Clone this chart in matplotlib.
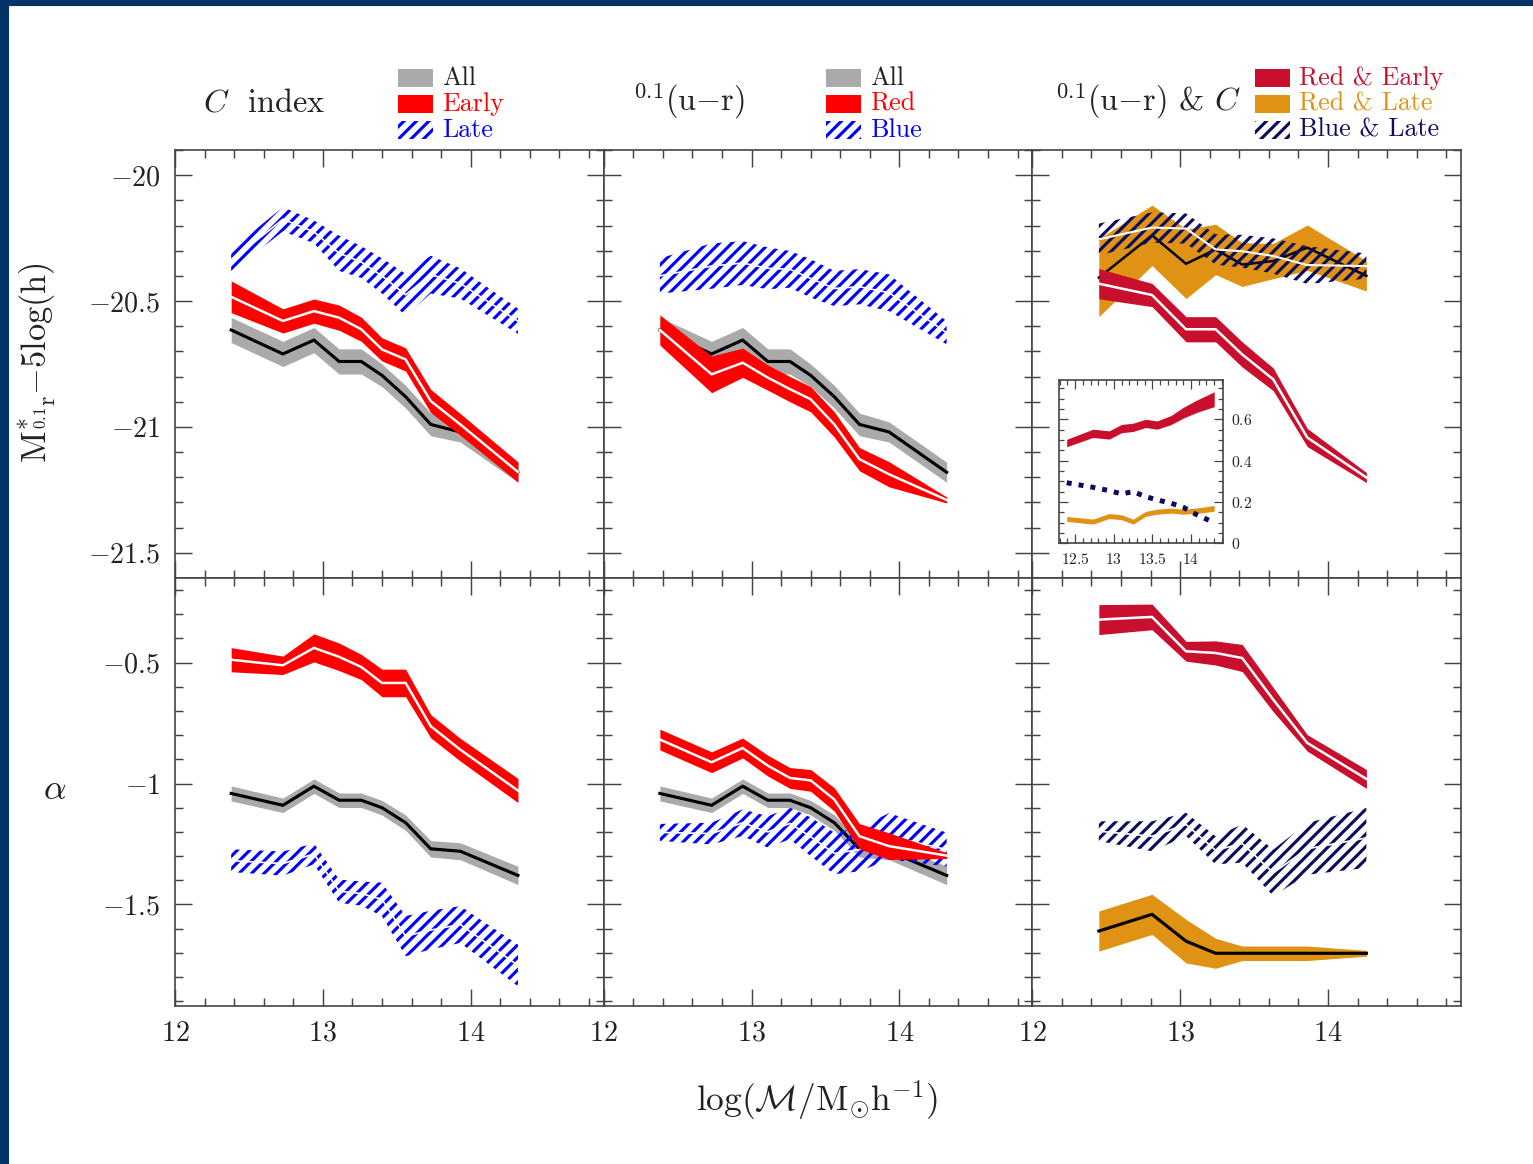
import numpy as np
import matplotlib
matplotlib.use("Agg")
import matplotlib.pyplot as plt
from matplotlib.patches import Rectangle
from matplotlib.ticker import MultipleLocator, FuncFormatter

plt.rcParams['mathtext.fontset'] = 'cm'
plt.rcParams['font.family'] = ['cmr10', 'DejaVu Serif']
plt.rcParams['axes.formatter.use_mathtext'] = True
plt.rcParams['hatch.linewidth'] = 1.5

# halo mass bins (log M / Msun h^-1)
mass_cu = [12.38, 12.73, 12.94, 13.11, 13.26, 13.40, 13.56, 13.73, 13.93, 14.32]
mass_uc = [12.45, 12.81, 13.04, 13.24, 13.42, 13.63, 13.86, 14.26]
mass_frac = [12.39, 12.73, 12.94, 13.10, 13.25, 13.41, 13.56, 13.74, 13.90, 14.08, 14.30]

# characteristic magnitude M*
mstar_all = [-20.615, -20.71, -20.655, -20.74, -20.74, -20.795, -20.88, -20.99, -21.02, -21.18]
mstar_all_err = [0.05, 0.05, 0.05, 0.05, 0.05, 0.045, 0.045, 0.045, 0.04, 0.04]
mstar_early = [-20.483, -20.579, -20.54, -20.566, -20.612, -20.692, -20.732, -20.897, -20.99, -21.179]
mstar_early_err = [0.063, 0.048, 0.048, 0.05, 0.048, 0.046, 0.046, 0.046, 0.043, 0.04]
mstar_late = [-20.34, -20.175, -20.225, -20.31, -20.345, -20.40, -20.475, -20.395, -20.43, -20.58]
mstar_late_err = [0.045, 0.048, 0.045, 0.07, 0.063, 0.07, 0.083, 0.075, 0.06, 0.05]
mstar_red = [-20.615, -20.791, -20.745, -20.804, -20.85, -20.89, -20.99, -21.128, -21.188, -21.29]
mstar_red_err = [0.06, 0.073, 0.058, 0.05, 0.05, 0.05, 0.05, 0.046, 0.05, 0.012]
mstar_blue = [-20.40, -20.361, -20.349, -20.37, -20.374, -20.41, -20.45, -20.443, -20.467, -20.626]
mstar_blue_err = [0.07, 0.09, 0.087, 0.083, 0.073, 0.076, 0.07, 0.07, 0.073, 0.046]
mstar_rede = [-20.431, -20.476, -20.612, -20.612, -20.712, -20.811, -21.042, -21.201]
mstar_rede_err = [0.06, 0.046, 0.05, 0.05, 0.05, 0.045, 0.036, 0.02]
mstar_redl = [-20.407, -20.239, -20.352, -20.295, -20.355, -20.341, -20.288, -20.40]
mstar_redl_err = [0.155, 0.12, 0.138, 0.10, 0.087, 0.07, 0.09, 0.06]
mstar_bluel = [-20.255, -20.208, -20.212, -20.295, -20.302, -20.321, -20.357, -20.361]
mstar_bluel_err = [0.063, 0.06, 0.06, 0.06, 0.065, 0.07, 0.075, 0.05]

# faint-end slope alpha
alpha_all = [-1.041, -1.09, -1.011, -1.069, -1.069, -1.10, -1.162, -1.27, -1.28, -1.38]
alpha_all_err = [0.031, 0.03, 0.03, 0.03, 0.03, 0.03, 0.032, 0.034, 0.035, 0.038]
alpha_early = [-0.488, -0.511, -0.439, -0.476, -0.518, -0.584, -0.584, -0.763, -0.86, -1.029]
alpha_early_err = [0.05, 0.038, 0.058, 0.057, 0.052, 0.057, 0.057, 0.048, 0.047, 0.05]
alpha_late = [-1.319, -1.331, -1.291, -1.445, -1.455, -1.479, -1.631, -1.606, -1.583, -1.752]
alpha_late_err = [0.047, 0.05, 0.043, 0.048, 0.05, 0.069, 0.083, 0.08, 0.076, 0.086]
alpha_red = [-0.818, -0.912, -0.853, -0.926, -0.977, -0.987, -1.066, -1.218, -1.259, -1.298]
alpha_red_err = [0.043, 0.043, 0.041, 0.043, 0.043, 0.045, 0.048, 0.052, 0.055, 0.012]
alpha_blue = [-1.202, -1.207, -1.162, -1.20, -1.165, -1.22, -1.289, -1.273, -1.218, -1.273]
alpha_blue_err = [0.035, 0.045, 0.055, 0.065, 0.065, 0.08, 0.086, 0.09, 0.096, 0.07]
alpha_rede = [-0.322, -0.311, -0.453, -0.46, -0.481, -0.653, -0.832, -0.981]
alpha_rede_err = [0.062, 0.053, 0.041, 0.05, 0.056, 0.05, 0.034, 0.039]
alpha_redl = [-1.61, -1.541, -1.652, -1.702, -1.702, -1.702, -1.702, -1.702]
alpha_redl_err = [0.083, 0.083, 0.09, 0.062, 0.03, 0.03, 0.03, 0.012]
alpha_bluel = [-1.197, -1.218, -1.169, -1.276, -1.248, -1.369, -1.27, -1.225]
alpha_bluel_err = [0.041, 0.062, 0.048, 0.058, 0.079, 0.096, 0.107, 0.124]

# fractions of galaxies (inset)
frac_rede = [0.485, 0.532, 0.524, 0.555, 0.561, 0.58, 0.572, 0.596, 0.632, 0.664, 0.697]
frac_rede_err = [0.018, 0.02, 0.02, 0.02, 0.02, 0.02, 0.02, 0.022, 0.026, 0.03, 0.036]
frac_redl = [0.118, 0.105, 0.132, 0.126, 0.105, 0.142, 0.153, 0.158, 0.153, 0.158, 0.169]
frac_redl_err = [0.012, 0.012, 0.012, 0.012, 0.012, 0.012, 0.012, 0.012, 0.012, 0.013, 0.014]
frac_bluel = [0.293, 0.271, 0.255, 0.239, 0.25, 0.226, 0.21, 0.194, 0.174, 0.137, 0.10]

GRAY = '#aaaaaa'
RED = '#ff0000'
BLUE = '#0000ff'
CRIMSON = '#c8102e'
ORANGE = '#e09214'
NAVY = '#0c0c5e'
FRAME = '#444444'

W, H, DPI = 1533, 1164, 150
fig = plt.figure(figsize=(W / DPI, H / DPI), dpi=DPI, facecolor='white')


def fx(px):
    return px / W


def fy(py):
    return 1 - py / H


# slide border
fig.patches.append(Rectangle((0, 0), fx(8), 1, transform=fig.transFigure,
                             color='#003466', zorder=0))
fig.patches.append(Rectangle((0, fy(5)), 1, 5 / H, transform=fig.transFigure,
                             color='#003466', zorder=0))


def band(ax, x, y, e, color, line, lw=1.4, hatch=None, z=2):
    y = np.asarray(y)
    e = np.asarray(e)
    if hatch:
        ax.fill_between(x, y - e, y + e, facecolor='none', edgecolor=color,
                        hatch=hatch, linewidth=0, zorder=z)
    else:
        ax.fill_between(x, y - e, y + e, color=color, linewidth=0, zorder=z)
    ax.plot(x, y, color=line, lw=lw, zorder=z + 0.1, solid_joinstyle='miter')


def tick_fmt(v, pos):
    return r'$%g$' % v


col_left = [175, 603.7, 1032.3]
row_top = [150, 578]
pw, ph = 428.7, 428
axes = [[None] * 3 for _ in range(2)]
for r in range(2):
    for c in range(3):
        ax = fig.add_axes([fx(col_left[c]), fy(row_top[r] + ph), pw / W, ph / H])
        ax.set_xlim(12, 14.9)
        if r == 0:
            ax.set_ylim(-21.6, -19.9)
        else:
            ax.set_ylim(-1.92, -0.15)
        ax.yaxis.set_major_locator(MultipleLocator(0.5))
        ax.xaxis.set_major_locator(MultipleLocator(1))
        ax.xaxis.set_minor_locator(MultipleLocator(0.2))
        ax.yaxis.set_minor_locator(MultipleLocator(0.1))
        ax.xaxis.set_major_formatter(FuncFormatter(tick_fmt))
        ax.yaxis.set_major_formatter(FuncFormatter(tick_fmt))
        ax.tick_params(which='both', direction='in', top=True, right=True,
                       color=FRAME, width=0.7, labelsize=13.5, labelcolor='#222222')
        ax.tick_params(which='major', length=8.2, pad=7)
        ax.tick_params(which='minor', length=3.9)
        ax.tick_params(labelleft=(c == 0), labelbottom=(r == 1))
        for s in ax.spines.values():
            s.set_color(FRAME)
            s.set_linewidth(0.8)
        axes[r][c] = ax

HATCH = '////'

# C index
ax = axes[0][0]
band(ax, mass_cu, mstar_all, mstar_all_err, GRAY, 'black', 1.5, z=2)
band(ax, mass_cu, mstar_late, mstar_late_err, BLUE, 'white', 0.8, hatch=HATCH, z=3)
band(ax, mass_cu, mstar_early, mstar_early_err, RED, 'white', 1.2, z=4)
ax = axes[1][0]
band(ax, mass_cu, alpha_all, alpha_all_err, GRAY, 'black', 1.5, z=2)
band(ax, mass_cu, alpha_late, alpha_late_err, BLUE, 'white', 0.8, hatch=HATCH, z=3)
band(ax, mass_cu, alpha_early, alpha_early_err, RED, 'white', 1.2, z=4)

# colour
ax = axes[0][1]
band(ax, mass_cu, mstar_all, mstar_all_err, GRAY, 'black', 1.5, z=2)
band(ax, mass_cu, mstar_blue, mstar_blue_err, BLUE, 'white', 0.8, hatch=HATCH, z=3)
band(ax, mass_cu, mstar_red, mstar_red_err, RED, 'white', 1.2, z=4)
ax = axes[1][1]
band(ax, mass_cu, alpha_all, alpha_all_err, GRAY, 'black', 1.5, z=2)
band(ax, mass_cu, alpha_blue, alpha_blue_err, BLUE, 'white', 0.8, hatch=HATCH, z=3)
band(ax, mass_cu, alpha_red, alpha_red_err, RED, 'white', 1.2, z=4)

# colour & concentration
ax = axes[0][2]
band(ax, mass_uc, mstar_redl, mstar_redl_err, ORANGE, 'black', 1.2, z=2)
band(ax, mass_uc, mstar_bluel, mstar_bluel_err, NAVY, 'white', 1.0, hatch=HATCH, z=3)
band(ax, mass_uc, mstar_rede, mstar_rede_err, CRIMSON, 'white', 1.2, z=4)
ax = axes[1][2]
band(ax, mass_uc, alpha_redl, alpha_redl_err, ORANGE, 'black', 1.5, z=2)
band(ax, mass_uc, alpha_bluel, alpha_bluel_err, NAVY, 'white', 0.8, hatch=HATCH, z=3)
band(ax, mass_uc, alpha_rede, alpha_rede_err, CRIMSON, 'white', 1.2, z=4)

# inset: fractions
ins = fig.add_axes([fx(1059), fy(543.3), 163.7 / W, 163.3 / H])
ins.set_xlim(12.29, 14.41)
ins.set_ylim(0, 0.79)
ins.fill_between(mass_frac, np.array(frac_rede) - np.array(frac_rede_err),
                 np.array(frac_rede) + np.array(frac_rede_err), color=CRIMSON, lw=0)
ins.fill_between(mass_frac, np.array(frac_redl) - np.array(frac_redl_err),
                 np.array(frac_redl) + np.array(frac_redl_err), color=ORANGE, lw=0)
ins.plot(mass_frac, frac_bluel, color=NAVY, lw=2.4, linestyle=(0, (1.0, 1.4)))
ins.xaxis.set_major_locator(MultipleLocator(0.5))
ins.xaxis.set_minor_locator(MultipleLocator(0.1))
ins.yaxis.set_major_locator(MultipleLocator(0.2))
ins.yaxis.set_minor_locator(MultipleLocator(0.05))
ins.xaxis.set_major_formatter(FuncFormatter(tick_fmt))
ins.yaxis.set_major_formatter(FuncFormatter(tick_fmt))
ins.tick_params(which='both', direction='in', top=True, right=True, left=True,
                labelleft=False, labelright=True, color=FRAME, width=0.6,
                labelsize=7.5, labelcolor='#222222')
ins.tick_params(which='major', length=4.3, pad=4)
ins.tick_params(which='minor', length=2.3)
for s in ins.spines.values():
    s.set_color(FRAME)
    s.set_linewidth(0.8)

# axis labels
fig.text(fx(817), fy(1100), r'$\log(\mathcal{M}/\mathrm{M}_{\odot}\mathrm{h}^{-1})$',
         ha='center', va='center', fontsize=17, color='#222222')
fig.text(fx(37), fy(363), r'$\mathrm{M}^{*}_{{}^{0.1}\mathrm{r}}{-}5\mathrm{log(h)}$',
         ha='center', va='center', rotation=90, fontsize=16.5, color='#222222')
fig.text(fx(55), fy(790), r'$\alpha$', ha='center', va='center', fontsize=17,
         color='#222222')

# panel titles
fig.text(fx(203), fy(103), r'$C$  index', ha='left', va='center', fontsize=15.5,
         color='#222222')
fig.text(fx(633), fy(101), r'${}^{0.1}(\mathrm{u}{-}\mathrm{r})$', ha='left', va='center',
         fontsize=15.5, color='#222222')
fig.text(fx(1055), fy(101), r'${}^{0.1}(\mathrm{u}{-}\mathrm{r})$ & $C$', ha='left',
         va='center', fontsize=15.5, color='#222222')

# legends
legends = [
    (398, [('All', GRAY, None, '#222222'), ('Early', RED, None, RED),
           ('Late', BLUE, HATCH, BLUE)]),
    (826, [('All', GRAY, None, '#222222'), ('Red', RED, None, RED),
           ('Blue', BLUE, HATCH, BLUE)]),
    (1255, [('Red & Early', CRIMSON, None, CRIMSON), ('Red & Late', ORANGE, None, ORANGE),
            ('Blue & Late', NAVY, HATCH, NAVY)]),
]
rows_y = [78, 104, 130]
for x0, items in legends:
    for (label, col, hatch, tcol), yc in zip(items, rows_y):
        if hatch:
            rect = Rectangle((fx(x0), fy(yc + 9)), 35 / W, 18 / H, transform=fig.transFigure,
                             facecolor='none', edgecolor=col, hatch=hatch, linewidth=0)
        else:
            rect = Rectangle((fx(x0), fy(yc + 9)), 35 / W, 18 / H, transform=fig.transFigure,
                             facecolor=col, edgecolor='none', linewidth=0)
        fig.patches.append(rect)
        fig.text(fx(x0 + 44), fy(yc), label, ha='left', va='center', fontsize=12.5,
                 color=tcol)

fig.savefig('out.png', dpi=DPI, facecolor='white')
